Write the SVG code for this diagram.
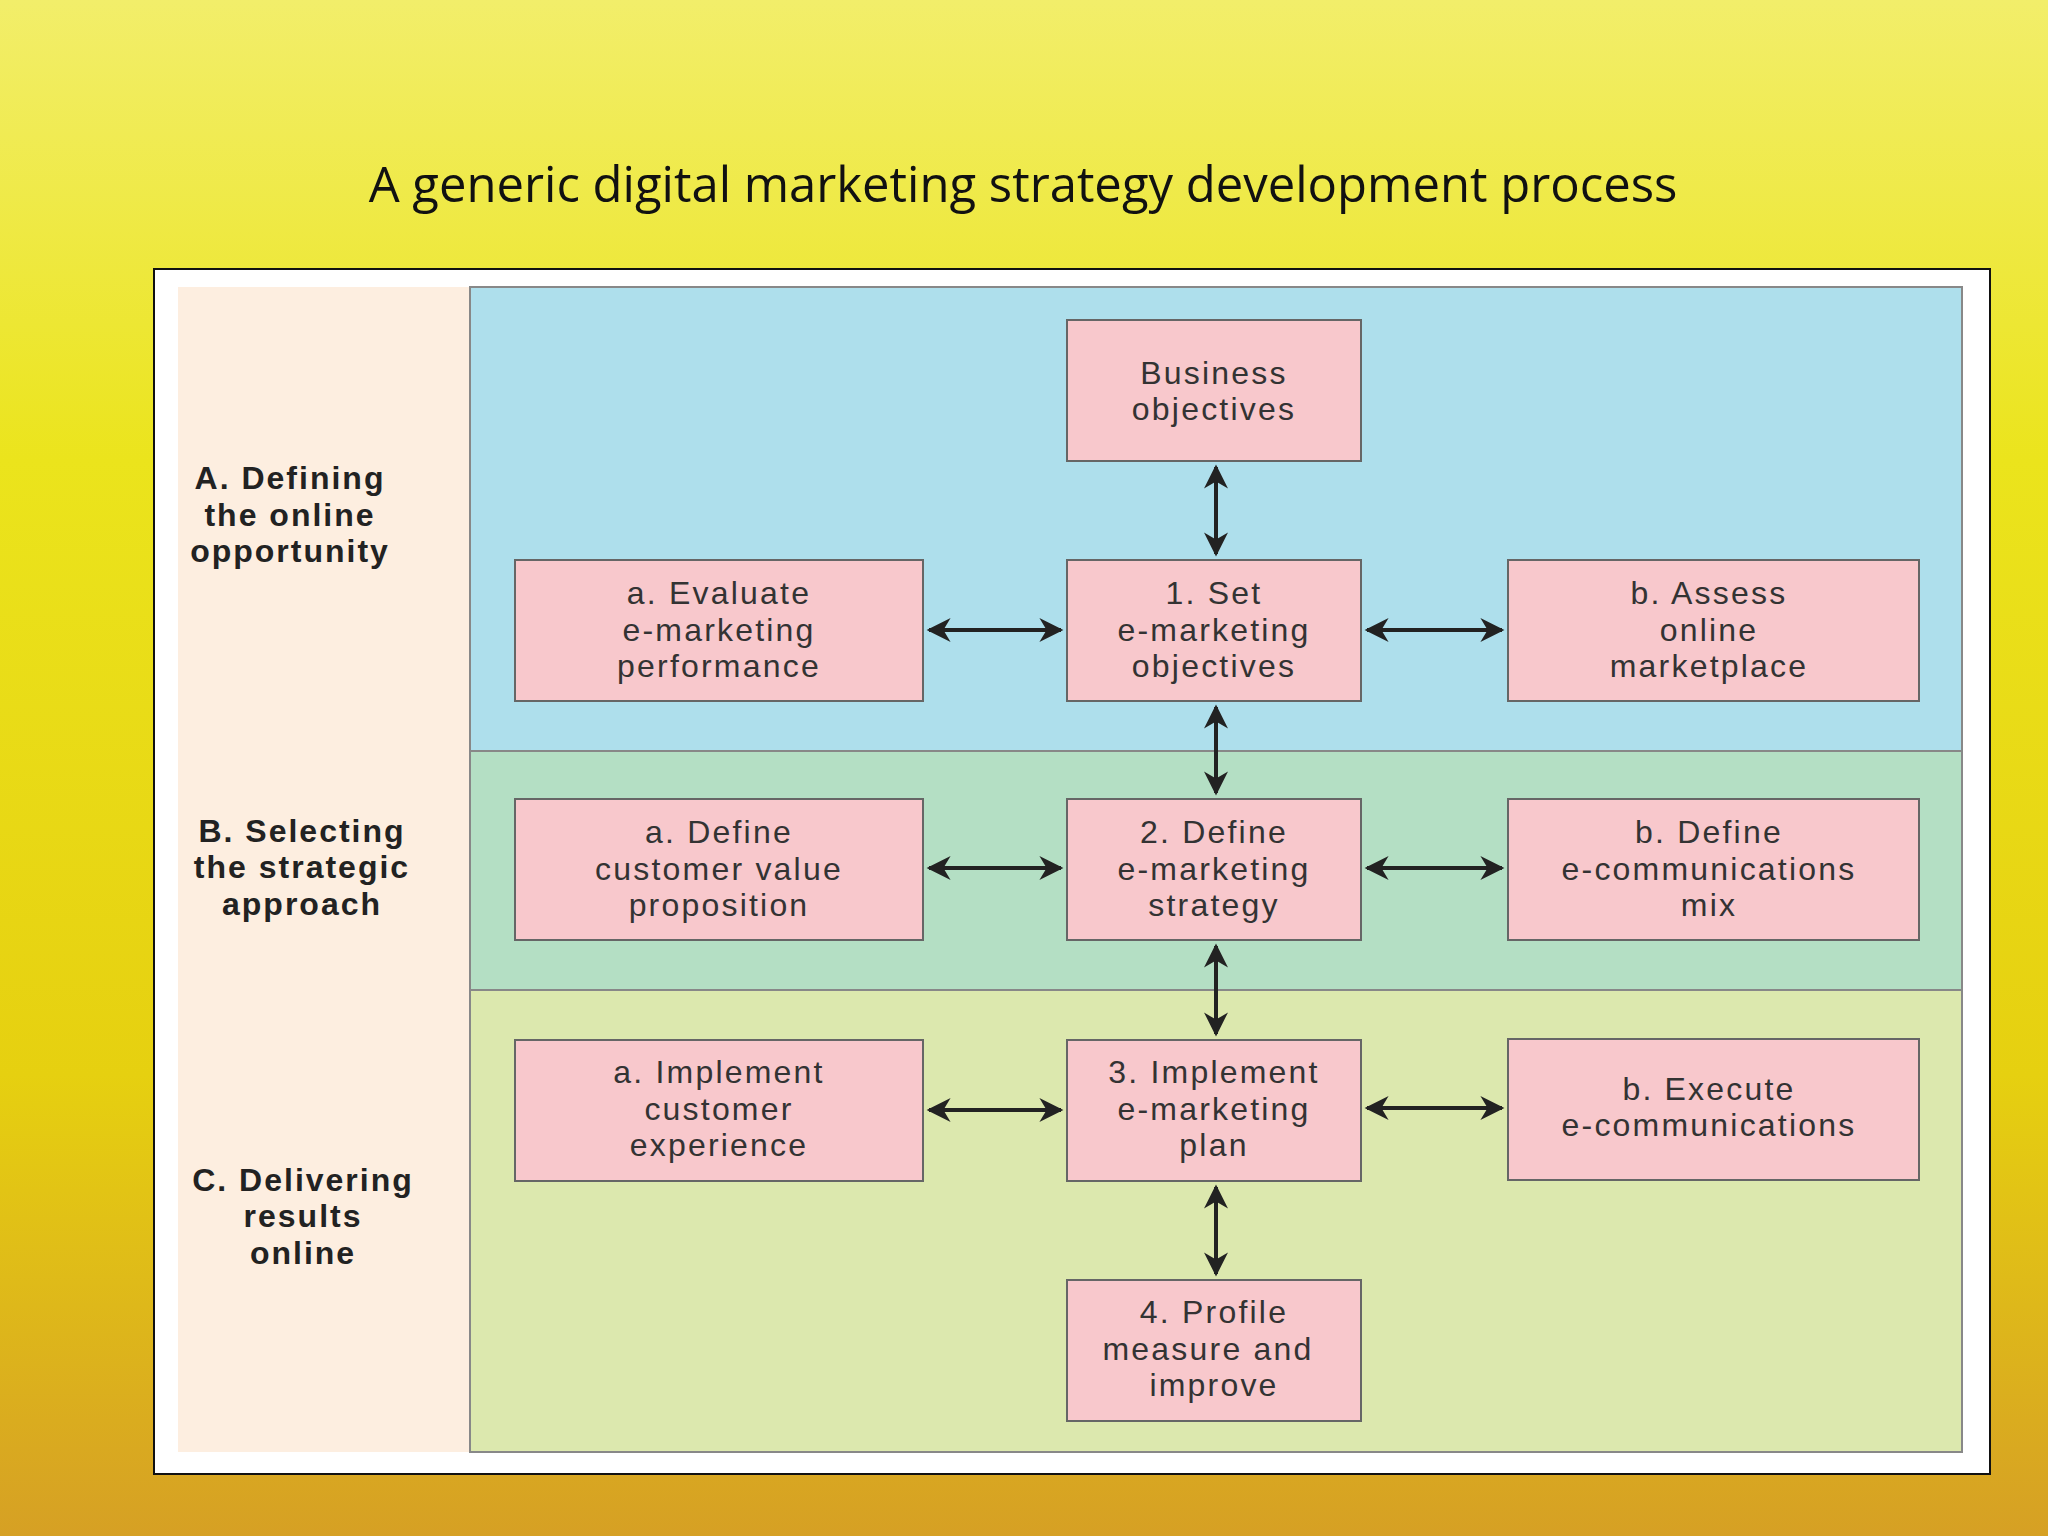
<svg xmlns="http://www.w3.org/2000/svg" width="2048" height="1536" viewBox="0 0 2048 1536">
<defs>
<linearGradient id="bg" x1="0" y1="0" x2="0" y2="1">
<stop offset="0" stop-color="#f2ee6a"/>
<stop offset="0.3" stop-color="#ebe41c"/>
<stop offset="0.7" stop-color="#e6d010"/>
<stop offset="1" stop-color="#d6a024"/>
</linearGradient>
<marker id="ah" viewBox="0 0 10 10" refX="9" refY="5" markerWidth="7" markerHeight="6" orient="auto-start-reverse">
<path d="M0,0 L10,5 L0,10 L3,5 z" fill="#222"/>
</marker>
<style>
.box{fill:#f8c8cc;stroke:#666;stroke-width:2}
.t{font-family:"Liberation Sans",Arial,sans-serif;font-size:32px;fill:#333;text-anchor:middle;letter-spacing:2.2px}
.s{font-family:"Liberation Sans",Arial,sans-serif;font-size:32px;font-weight:bold;fill:#222;text-anchor:middle;letter-spacing:2px}
.c{stroke:#222;stroke-width:4;fill:none;marker-start:url(#ah);marker-end:url(#ah)}
</style>
</defs>
<rect width="2048" height="1536" fill="url(#bg)"/>
<text x="1023" y="202" font-family="'Open Sans','Liberation Sans',sans-serif" font-size="49" text-anchor="middle" fill="#111">A generic digital marketing strategy development process</text>
<rect x="154" y="269" width="1836" height="1205" fill="#fff" stroke="#111" stroke-width="2"/>
<rect x="178" y="287" width="292" height="1165" fill="#fdeee0"/>
<rect x="470" y="287" width="1492" height="464" fill="#aedfec" stroke="#888" stroke-width="2"/>
<rect x="470" y="751" width="1492" height="239" fill="#b4dfc4" stroke="#888" stroke-width="2"/>
<rect x="470" y="990" width="1492" height="462" fill="#dce8ae" stroke="#888" stroke-width="2"/>
<g id="secA"><text class="s" x="290" y="489">A. Defining</text><text class="s" x="290" y="526">the online</text><text class="s" x="290" y="562">opportunity</text></g>
<g id="secB"><text class="s" x="302" y="842">B. Selecting</text><text class="s" x="302" y="878">the strategic</text><text class="s" x="302" y="915">approach</text></g>
<g id="secC"><text class="s" x="303" y="1191">C. Delivering</text><text class="s" x="303" y="1227">results</text><text class="s" x="303" y="1264">online</text></g>
<g id="connectors">
<line class="c" x1="1216" y1="467" x2="1216" y2="554"/>
<line class="c" x1="1216" y1="707" x2="1216" y2="793"/>
<line class="c" x1="1216" y1="946" x2="1216" y2="1034"/>
<line class="c" x1="1216" y1="1187" x2="1216" y2="1274"/>
<line class="c" x1="929" y1="630" x2="1061" y2="630"/>
<line class="c" x1="1367" y1="630" x2="1502" y2="630"/>
<line class="c" x1="929" y1="868" x2="1061" y2="868"/>
<line class="c" x1="1367" y1="868" x2="1502" y2="868"/>
<line class="c" x1="929" y1="1110" x2="1061" y2="1110"/>
<line class="c" x1="1367" y1="1108" x2="1502" y2="1108"/>
</g>
<g id="n0"><rect class="box" x="1067" y="320" width="294" height="141"/><text class="t" x="1214" y="384">Business</text><text class="t" x="1214" y="420">objectives</text></g>
<g id="n1a"><rect class="box" x="515" y="560" width="408" height="141"/><text class="t" x="719" y="604">a. Evaluate</text><text class="t" x="719" y="641">e-marketing</text><text class="t" x="719" y="677">performance</text></g>
<g id="n1"><rect class="box" x="1067" y="560" width="294" height="141"/><text class="t" x="1214" y="604">1. Set</text><text class="t" x="1214" y="641">e-marketing</text><text class="t" x="1214" y="677">objectives</text></g>
<g id="n1b"><rect class="box" x="1508" y="560" width="411" height="141"/><text class="t" x="1709" y="604">b. Assess</text><text class="t" x="1709" y="641">online</text><text class="t" x="1709" y="677">marketplace</text></g>
<g id="n2a"><rect class="box" x="515" y="799" width="408" height="141"/><text class="t" x="719" y="843">a. Define</text><text class="t" x="719" y="880">customer value</text><text class="t" x="719" y="916">proposition</text></g>
<g id="n2"><rect class="box" x="1067" y="799" width="294" height="141"/><text class="t" x="1214" y="843">2. Define</text><text class="t" x="1214" y="880">e-marketing</text><text class="t" x="1214" y="916">strategy</text></g>
<g id="n2b"><rect class="box" x="1508" y="799" width="411" height="141"/><text class="t" x="1709" y="843">b. Define</text><text class="t" x="1709" y="880">e-communications</text><text class="t" x="1709" y="916">mix</text></g>
<g id="n3a"><rect class="box" x="515" y="1040" width="408" height="141"/><text class="t" x="719" y="1083">a. Implement</text><text class="t" x="719" y="1120">customer</text><text class="t" x="719" y="1156">experience</text></g>
<g id="n3"><rect class="box" x="1067" y="1040" width="294" height="141"/><text class="t" x="1214" y="1083">3. Implement</text><text class="t" x="1214" y="1120">e-marketing</text><text class="t" x="1214" y="1156">plan</text></g>
<g id="n3b"><rect class="box" x="1508" y="1039" width="411" height="141"/><text class="t" x="1709" y="1100">b. Execute</text><text class="t" x="1709" y="1136">e-communications</text></g>
<g id="n4"><rect class="box" x="1067" y="1280" width="294" height="141"/><text class="t" x="1214" y="1323">4. Profile</text><text class="t" x="1208" y="1360">measure and</text><text class="t" x="1214" y="1396">improve</text></g>
</svg>
